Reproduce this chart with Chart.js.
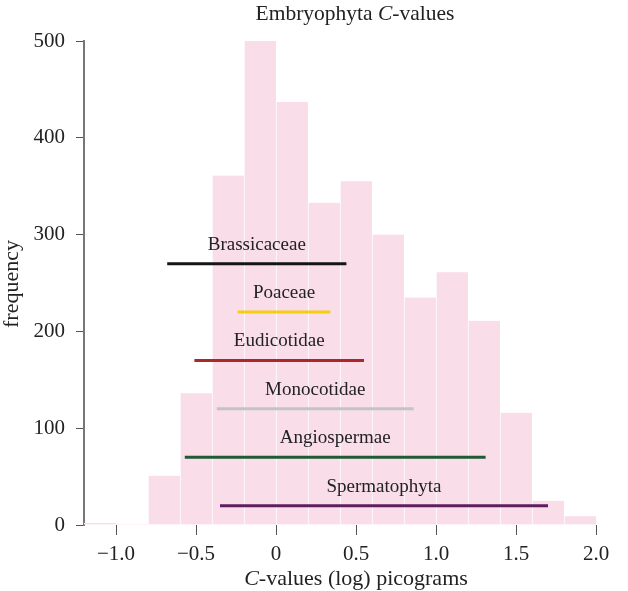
<!DOCTYPE html>
<html>
<head>
<meta charset="utf-8">
<script src="https://cdn.jsdelivr.net/npm/chart.js@4/dist/chart.umd.min.js"></script>
<style>
  body { margin: 0; background: #fff; }
  canvas { display: block; }
</style>
</head>
<body>
<canvas id="myChart" width="628" height="591"></canvas>
<script>
// histogram bins (log C-value, bin centre) and counts
const binCentres = [-1.1, -0.9, -0.7, -0.5, -0.3, -0.1, 0.1, 0.3, 0.5, 0.7, 0.9, 1.1, 1.3, 1.5, 1.7, 1.9];
const binCounts  = [2, 1, 51, 136, 361, 501, 437, 333, 355, 300, 235, 261, 211, 116, 25, 9];

// ranges per clade
const cladeNames = ['Brassicaceae', 'Poaceae', 'Eudicotidae', 'Monocotidae', 'Angiospermae', 'Spermatophyta'];
const cladeFrom  = [-0.68, -0.24, -0.51, -0.37, -0.57, -0.35];
const cladeTo    = [0.44, 0.34, 0.55, 0.86, 1.31, 1.70];
const cladeLevel = [270, 220, 170, 120, 70, 20];
const cladeColors = ['#151515', '#f6cc10', '#a8282c', '#c4c4c4', '#1f5a34', '#5e1e5e'];

const xTicks = [-1.0, -0.5, 0, 0.5, 1.0, 1.5, 2.0];
const yTicks = [0, 100, 200, 300, 400, 500];

const serif = '"Liberation Serif", "Times New Roman", serif';

const datasets = [];
cladeNames.forEach(function (name, i) {
  datasets.push({
    type: 'line',
    label: name,
    data: [{ x: cladeFrom[i], y: cladeLevel[i] }, { x: cladeTo[i], y: cladeLevel[i] }],
    borderColor: cladeColors[i],
    borderWidth: 3,
    pointRadius: 0,
    borderCapStyle: 'butt',
    order: 0
  });
});
datasets.push({
  type: 'bar',
  label: 'counts',
  data: binCentres.map((c, i) => ({ x: c, y: binCounts[i] })),
  backgroundColor: '#f9dde9',
  borderColor: '#ffffff',
  borderWidth: { left: 1, right: 0, top: 0, bottom: 0 },
  borderSkipped: false,
  barPercentage: 1,
  categoryPercentage: 1,
  order: 10
});

// labels above each range line, plus titles with italic C
const textPlugin = {
  id: 'texts',
  afterDatasetsDraw(chart) {
    const ctx = chart.ctx;
    const xs = chart.scales.x, ys = chart.scales.y;
    ctx.save();
    ctx.fillStyle = '#222';
    ctx.textBaseline = 'middle';
    ctx.textAlign = 'center';
    ctx.font = '19px ' + serif;
    cladeNames.forEach(function (name, i) {
      const mx = (xs.getPixelForValue(cladeFrom[i]) + xs.getPixelForValue(cladeTo[i])) / 2;
      const py = ys.getPixelForValue(cladeLevel[i]) - 19;
      ctx.fillText(name, mx, py);
    });
    ctx.restore();
  },
  afterDraw(chart) {
    const ctx = chart.ctx;
    ctx.save();
    ctx.fillStyle = '#222';
    ctx.textBaseline = 'middle';
    // mixed italic text centred at (cx, cy)
    function mixed(parts, cx, cy, size) {
      let w = 0;
      parts.forEach(p => { ctx.font = (p[1] ? 'italic ' : '') + size + 'px ' + serif; w += ctx.measureText(p[0]).width; });
      let x = cx - w / 2;
      ctx.textAlign = 'left';
      parts.forEach(p => { ctx.font = (p[1] ? 'italic ' : '') + size + 'px ' + serif; ctx.fillText(p[0], x, cy); x += ctx.measureText(p[0]).width; });
    }
    mixed([['Embryophyta ', false], ['C', true], ['-values', false]], 355, 14, 21.5);
    mixed([['C', true], ['-values (log) picograms', false]], 356, 579, 22);
    ctx.translate(12, 284);
    ctx.rotate(-Math.PI / 2);
    ctx.textAlign = 'center';
    ctx.font = '22px ' + serif;
    ctx.fillText('frequency', 0, 0);
    ctx.restore();
  }
};

const ctx = document.getElementById('myChart').getContext('2d');
const myChart = new Chart(ctx, {
  type: 'bar',
  data: { datasets: datasets },
  options: {
    responsive: false,
    animation: false,
    layout: { padding: { top: 41, right: 32, left: 0, bottom: 0 } },
    plugins: { legend: { display: false }, tooltip: { enabled: false }, title: { display: false } },
    scales: {
      x: {
        type: 'linear',
        min: -1.2,
        max: 2.0,
        offset: false,
        afterBuildTicks: function (scale) { scale.ticks = xTicks.map(v => ({ value: v })); },
        afterFit: function (scale) { scale.height = 66; },
        grid: { drawOnChartArea: false, drawTicks: true, tickLength: 10, color: '#555', offset: false },
        border: { display: false },
        ticks: {
          color: '#222',
          padding: 7,
          maxRotation: 0,
          font: { family: serif, size: 21 },
          callback: function (v) {
            if (v === 0) return '0';
            return (v < 0 ? '\u2212' : '') + Math.abs(v).toFixed(1);
          }
        }
      },
      y: {
        min: 0,
        max: 500,
        afterBuildTicks: function (scale) { scale.ticks = yTicks.map(v => ({ value: v })); },
        afterFit: function (scale) { scale.width = 84; },
        grid: { drawOnChartArea: false, drawTicks: true, tickLength: 8, color: '#555' },
        border: { display: true, color: '#777', width: 2 },
        ticks: { color: '#222', padding: 11, font: { family: serif, size: 21 } }
      }
    }
  },
  plugins: [textPlugin]
});
</script>
</body>
</html>
